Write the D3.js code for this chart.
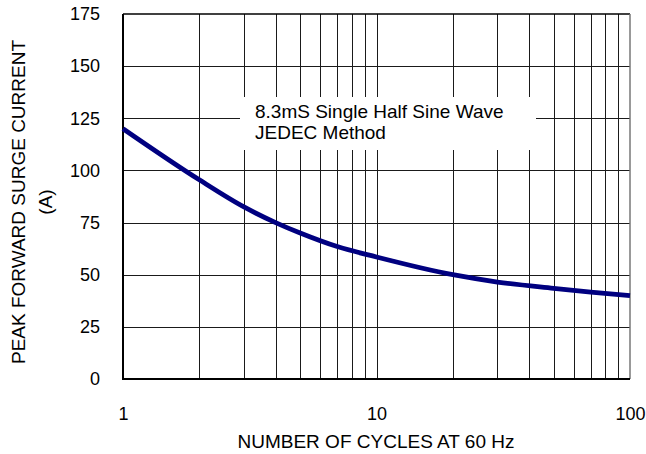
<!DOCTYPE html>
<html><head><meta charset="utf-8">
<script src="https://cdn.jsdelivr.net/npm/d3@7"></script>
<style>html,body{margin:0;padding:0;background:#fff;} svg{display:block;font-family:"Liberation Sans",Arial,sans-serif;}</style>
</head><body>
<svg id="c" width="646" height="454"></svg>
<script>
const cycles = [1, 2, 3, 4, 5, 7, 10, 20, 30, 50, 70, 100];
const current = [120, 95.5, 82.5, 75, 70, 63.5, 58.5, 50, 46.5, 43.5, 41.7, 40];
const yTicks = [0, 25, 50, 75, 100, 125, 150, 175];
const xTickLabels = [1, 10, 100];
const xTitle = "NUMBER OF CYCLES AT 60 Hz";
const yTitle = ["PEAK FORWARD SURGE CURRENT", "(A)"];
const note = ["8.3mS Single Half Sine Wave", "JEDEC Method"];

const svg = d3.select("#c");
const L = 123, R = 630, T = 14, B = 379;
const x = d3.scaleLog().domain([1, 100]).range([L, R]);
const y = d3.scaleLinear().domain([0, 175]).range([B, T]);

const minor = [];
for (let d = 1; d < 100; d *= 10) for (let k = 2; k <= 9; k++) minor.push(d * k);
minor.push(10);

const grid = svg.append("g").attr("stroke", "#1a1a1a").attr("stroke-width", 1).attr("shape-rendering", "crispEdges");
grid.selectAll("line.v").data(minor).join("line")
  .attr("x1", d => Math.round(x(d)) + 0.5).attr("x2", d => Math.round(x(d)) + 0.5)
  .attr("y1", T).attr("y2", B);
grid.selectAll("line.h").data(yTicks.slice(1, -1)).join("line")
  .attr("x1", L).attr("x2", R)
  .attr("y1", d => Math.round(y(d)) + 0.5).attr("y2", d => Math.round(y(d)) + 0.5);

// note box
const nb = svg.append("g");
nb.append("rect").attr("x", 240).attr("y", 97).attr("width", 296).attr("height", 53).attr("fill", "#fff");
nb.selectAll("text").data(note).join("text")
  .attr("x", 255).attr("y", (d, i) => 117.5 + i * 21)
  .attr("font-size", 19).attr("fill", "#000").text(d => d);

// frame
svg.append("line").attr("x1", L).attr("x2", R).attr("y1", T).attr("y2", T).attr("stroke", "#000").attr("stroke-width", 1.5);
svg.append("line").attr("x1", R).attr("x2", R).attr("y1", T).attr("y2", B).attr("stroke", "#777").attr("stroke-width", 1.5);
svg.append("line").attr("x1", L).attr("x2", L).attr("y1", T).attr("y2", B + 1).attr("stroke", "#000").attr("stroke-width", 2);
svg.append("line").attr("x1", L).attr("x2", R).attr("y1", B).attr("y2", B).attr("stroke", "#000").attr("stroke-width", 2);

// curve
const line = d3.line().x((d, i) => x(cycles[i])).y(d => y(d)).curve(d3.curveMonotoneX);
svg.append("path").datum(current).attr("d", line)
  .attr("fill", "none").attr("stroke", "#000080").attr("stroke-width", 4.8).attr("stroke-linecap", "butt");

// axes labels
const yAxis = d3.axisLeft(y).tickValues(yTicks).tickSize(0).tickPadding(23);
const ya = svg.append("g").attr("transform", `translate(${L},0)`).call(yAxis);
ya.select(".domain").remove();
ya.selectAll("text").attr("font-size", 18).attr("font-family", "Liberation Sans, Arial, sans-serif").attr("fill", "#000");

const xAxis = d3.axisBottom(x).tickValues(xTickLabels).tickFormat(d3.format("d")).tickSize(0).tickPadding(28);
const xa = svg.append("g").attr("transform", `translate(0,${B})`).call(xAxis);
xa.select(".domain").remove();
xa.selectAll("text").attr("font-size", 18).attr("font-family", "Liberation Sans, Arial, sans-serif").attr("fill", "#000").attr("dy", null).attr("y", 41);

svg.append("text").attr("x", 376).attr("y", 448).attr("text-anchor", "middle")
  .attr("font-size", 19).text(xTitle);
svg.selectAll("text.yt").data(yTitle).join("text").attr("class", "yt")
  .attr("transform", (d, i) => `translate(${25 + i * 27},202) rotate(-90)`)
  .attr("text-anchor", "middle").attr("font-size", 19).text(d => d);
</script>
</body></html>
